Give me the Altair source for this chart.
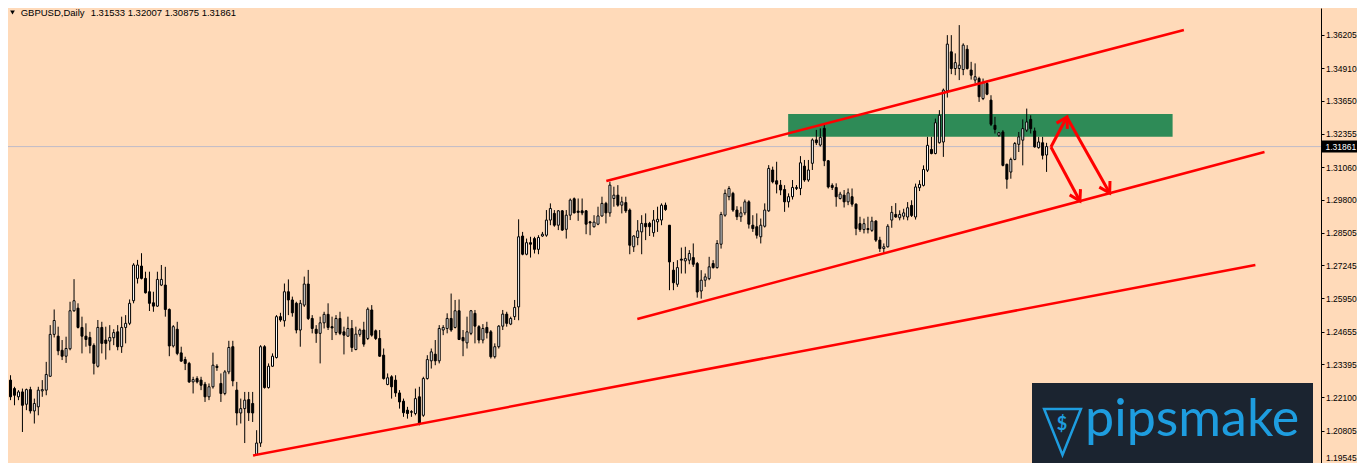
import altair as alt
import pandas as pd

# ---------------- data ----------------
opens = [
1.2277,1.2244,1.2212,1.2231,1.2183,1.2240,1.2157,1.2173,1.2235,1.2238,
1.2292,1.2455,1.2448,1.2393,1.2370,1.2399,1.2547,1.2557,1.2482,1.2448,
1.2443,1.2412,1.2331,1.2482,1.2433,1.2429,1.2442,1.2465,1.2407,1.2482,
1.2498,1.2586,1.2673,1.2721,1.2673,1.2621,1.2578,1.2565,1.2647,1.2647,
1.2552,1.2410,1.2475,1.2383,1.2357,1.2342,1.2270,1.2283,1.2277,1.2261,
1.2212,1.2251,1.2331,1.2264,1.2225,1.2309,1.2407,1.2238,1.2149,1.2166,
1.2201,1.2186,1.1988,1.2032,1.2407,1.2248,1.2331,1.2365,1.2524,1.2508,
1.2621,1.2589,1.2576,1.2472,1.2569,1.2651,1.2517,1.2475,1.2459,1.2500,
1.2533,1.2485,1.2462,1.2517,1.2465,1.2448,1.2478,1.2396,1.2455,1.2472,
1.2439,1.2550,1.2469,1.2439,1.2374,1.2260,1.2290,1.2277,1.2227,1.2195,
1.2160,1.2154,1.2147,1.2212,1.2140,1.2283,1.2352,1.2378,1.2352,1.2472,
1.2478,1.2517,1.2482,1.2547,1.2443,1.2422,1.2459,1.2537,1.2485,1.2433,
1.2482,1.2465,1.2368,1.2407,1.2487,1.2534,1.2495,1.2524,1.2562,1.2838,
1.2767,1.2812,1.2828,1.2786,1.2838,1.2841,1.2900,1.2926,1.2880,1.2936,
1.2864,1.2919,1.2983,1.2935,1.2936,1.2936,1.2893,1.2874,1.2884,1.2916,
1.2965,1.2928,1.2984,1.2997,1.2958,1.2968,1.2939,1.2796,1.2832,1.2854,
1.2887,1.2887,1.2851,1.2893,1.2900,1.2958,1.2880,1.2705,1.2650,1.2748,
1.2741,1.2744,1.2754,1.2731,1.2624,1.2666,1.2672,1.2731,1.2715,1.2806,
1.2919,1.2991,1.3004,1.2939,1.2913,1.2928,1.2971,1.2880,1.2874,1.2835,
1.2876,1.2936,1.3095,1.3053,1.3036,1.3019,1.2971,1.2991,1.3023,1.3023,
1.3110,1.3056,1.3121,1.3212,1.3192,1.3257,1.3131,1.3035,1.3027,1.2984,
1.2997,1.2971,1.2991,1.2962,1.2886,1.2863,1.2867,1.2860,1.2896,1.2822,
1.2789,1.2796,1.2900,1.2922,1.2909,1.2915,1.2912,1.2957,1.2912,1.3026,
1.3035,1.3094,1.3175,1.3159,1.3201,1.3204,1.3403,1.3555,1.3490,1.3490,
1.3486,1.3565,1.3484,1.3445,1.3451,1.3373,1.3432,1.3367,1.3269,1.3230,
1.3243,1.3117,1.3087,1.3136,1.3195,1.3211,1.3250,1.3292,1.3247,1.3182,
1.3201,1.31533]

highs = [
1.2296,1.2251,1.2238,1.2244,1.2244,1.2251,1.2205,1.2251,1.2277,1.2348,
1.2491,1.2552,1.2485,1.2433,1.2446,1.2582,1.2670,1.2576,1.2524,1.2498,
1.2465,1.2420,1.2511,1.2504,1.2485,1.2491,1.2475,1.2491,1.2524,1.2530,
1.2591,1.2732,1.2745,1.2771,1.2699,1.2699,1.2621,1.2699,1.2725,1.2718,
1.2556,1.2491,1.2504,1.2407,1.2368,1.2348,1.2290,1.2292,1.2290,1.2270,
1.2264,1.2384,1.2339,1.2303,1.2316,1.2430,1.2430,1.2270,1.2205,1.2231,
1.2231,1.2231,1.2082,1.2413,1.2413,1.2342,1.2381,1.2530,1.2539,1.2653,
1.2669,1.2602,1.2582,1.2589,1.2680,1.2706,1.2530,1.2491,1.2524,1.2543,
1.2576,1.2524,1.2530,1.2543,1.2485,1.2524,1.2511,1.2485,1.2478,1.2504,
1.2560,1.2569,1.2474,1.2472,1.2400,1.2303,1.2296,1.2296,1.2238,1.2205,
1.2173,1.2160,1.2244,1.2251,1.2290,1.2374,1.2400,1.2433,1.2491,1.2491,
1.2537,1.2614,1.2589,1.2591,1.2472,1.2524,1.2550,1.2550,1.2491,1.2495,
1.2504,1.2472,1.2420,1.2491,1.2550,1.2543,1.2524,1.2589,1.2903,1.2854,
1.2828,1.2835,1.2835,1.2841,1.2854,1.2939,1.2965,1.2939,1.2939,1.2939,
1.2939,1.2984,1.2988,1.2984,1.2984,1.2939,1.2897,1.2919,1.2952,1.2991,
1.2971,1.3049,1.3030,1.3036,1.2991,1.2991,1.2945,1.2841,1.2900,1.2919,
1.2926,1.2893,1.2939,1.2952,1.2965,1.2968,1.2880,1.2737,1.2744,1.2793,
1.2796,1.2783,1.2809,1.2737,1.2705,1.2692,1.2757,1.2744,1.2822,1.2932,
1.3019,1.3032,1.3010,1.2954,1.2952,1.2980,1.2977,1.2919,1.2926,1.2906,
1.2965,1.3114,1.3108,1.3127,1.3056,1.3036,1.3004,1.3056,1.3036,1.3149,
1.3134,1.3134,1.3218,1.3251,1.3257,1.3270,1.3134,1.3043,1.3043,1.3010,
1.3017,1.3023,1.3023,1.2965,1.2913,1.2906,1.2913,1.2913,1.2900,1.2835,
1.2809,1.2884,1.2955,1.2966,1.2938,1.2944,1.2970,1.2977,1.3042,1.3055,
1.3113,1.3224,1.3224,1.3295,1.3328,1.3412,1.3620,1.3620,1.3549,1.3659,
1.3588,1.3581,1.3516,1.3510,1.3458,1.3451,1.3442,1.3386,1.3302,1.3243,
1.3250,1.3120,1.3143,1.3204,1.3243,1.3292,1.3334,1.3308,1.3260,1.3224,
1.3224,1.32007]

lows = [
1.2199,1.2179,1.2199,1.2075,1.2160,1.2147,1.2108,1.2140,1.2212,1.2218,
1.2290,1.2443,1.2374,1.2355,1.2344,1.2393,1.2543,1.2478,1.2381,1.2407,
1.2381,1.2299,1.2326,1.2381,1.2357,1.2393,1.2413,1.2393,1.2383,1.2420,
1.2491,1.2576,1.2653,1.2669,1.2614,1.2546,1.2543,1.2562,1.2643,1.2524,
1.2370,1.2404,1.2374,1.2348,1.2316,1.2266,1.2225,1.2264,1.2238,1.2192,
1.2199,1.2244,1.2313,1.2192,1.2218,1.2300,1.2253,1.2101,1.2108,1.2032,
1.2118,1.2114,1.1984,1.2017,1.2244,1.2244,1.2329,1.2361,1.2504,1.2485,
1.2530,1.2524,1.2459,1.2407,1.2562,1.2511,1.2459,1.2422,1.2342,1.2478,
1.2472,1.2433,1.2452,1.2452,1.2377,1.2446,1.2387,1.2393,1.2446,1.2407,
1.2433,1.2446,1.2433,1.2368,1.2279,1.2257,1.2205,1.2212,1.2166,1.2134,
1.2127,1.2134,1.2140,1.2101,1.2134,1.2279,1.2322,1.2335,1.2342,1.2452,
1.2459,1.2465,1.2478,1.2433,1.2370,1.2400,1.2452,1.2420,1.2420,1.2420,
1.2439,1.2361,1.2361,1.2400,1.2472,1.2485,1.2491,1.2511,1.2510,1.2763,
1.2763,1.2754,1.2770,1.2767,1.2835,1.2835,1.2880,1.2874,1.2861,1.2858,
1.2828,1.2900,1.2926,1.2897,1.2919,1.2845,1.2841,1.2871,1.2880,1.2913,
1.2887,1.2913,1.2952,1.2952,1.2926,1.2928,1.2767,1.2776,1.2802,1.2767,
1.2822,1.2838,1.2835,1.2854,1.2880,1.2936,1.2627,1.2627,1.2640,1.2692,
1.2692,1.2728,1.2718,1.2598,1.2594,1.2640,1.2666,1.2711,1.2711,1.2789,
1.2913,1.2977,1.2932,1.2900,1.2893,1.2919,1.2867,1.2854,1.2828,1.2809,
1.2871,1.2932,1.3043,1.3004,1.2997,1.2932,1.2949,1.2980,1.3017,1.2997,
1.3049,1.3049,1.3095,1.3192,1.3186,1.3110,1.3023,1.3017,1.2952,1.2980,
1.2949,1.2958,1.2952,1.2841,1.2854,1.2848,1.2848,1.2854,1.2815,1.2776,
1.2770,1.2793,1.2870,1.2909,1.2899,1.2902,1.2899,1.2912,1.2902,1.3013,
1.3031,1.3087,1.3156,1.3156,1.3198,1.3146,1.3377,1.3468,1.3464,1.3445,
1.3464,1.3486,1.3447,1.3432,1.3360,1.3367,1.3386,1.3266,1.3237,1.3224,
1.3109,1.3022,1.3061,1.3133,1.3165,1.3113,1.3243,1.3237,1.3182,1.3178,
1.3136,1.30875]

closes = [
1.2212,1.2218,1.2231,1.2179,1.2240,1.2157,1.2186,1.2238,1.2240,1.2299,
1.2455,1.2509,1.2391,1.2370,1.2400,1.2547,1.2586,1.2482,1.2448,1.2435,
1.2412,1.2342,1.2482,1.2420,1.2420,1.2443,1.2462,1.2407,1.2482,1.2498,
1.2576,1.2725,1.2725,1.2673,1.2617,1.2576,1.2565,1.2669,1.2669,1.2552,
1.2410,1.2485,1.2381,1.2351,1.2342,1.2270,1.2279,1.2270,1.2257,1.2212,
1.2251,1.2335,1.2326,1.2225,1.2309,1.2404,1.2274,1.2149,1.2166,1.2199,
1.2150,1.2149,1.2032,1.2407,1.2248,1.2331,1.2370,1.2524,1.2511,1.2621,
1.2589,1.2539,1.2472,1.2576,1.2651,1.2517,1.2478,1.2459,1.2500,1.2533,
1.2482,1.2480,1.2517,1.2459,1.2452,1.2478,1.2404,1.2456,1.2472,1.2417,
1.2553,1.2452,1.2439,1.2370,1.2283,1.2286,1.2251,1.2227,1.2192,1.2150,
1.2147,1.2152,1.2205,1.2108,1.2283,1.2357,1.2387,1.2352,1.2478,1.2482,
1.2517,1.2472,1.2547,1.2435,1.2430,1.2465,1.2547,1.2487,1.2433,1.2478,
1.2461,1.2368,1.2407,1.2487,1.2534,1.2498,1.2517,1.2560,1.2835,1.2767,
1.2812,1.2806,1.2786,1.2832,1.2845,1.2900,1.2945,1.2880,1.2936,1.2861,
1.2919,1.2978,1.2928,1.2930,1.2928,1.2884,1.2889,1.2892,1.2916,1.2965,
1.2928,1.3036,1.2997,1.2958,1.2971,1.2936,1.2802,1.2838,1.2858,1.2887,
1.2874,1.2874,1.2900,1.2903,1.2958,1.2941,1.2737,1.2656,1.2715,1.2744,
1.2750,1.2770,1.2728,1.2620,1.2666,1.2679,1.2718,1.2715,1.2809,1.2922,
1.3004,1.3023,1.2939,1.2913,1.2928,1.2971,1.2884,1.2867,1.2841,1.2880,
1.2939,1.3101,1.3049,1.3040,1.3017,1.2971,1.2991,1.3027,1.3027,1.3123,
1.3056,1.3095,1.3212,1.3201,1.3222,1.3131,1.3029,1.3027,1.2991,1.3001,
1.2971,1.3006,1.2962,1.2867,1.2863,1.2886,1.2863,1.2896,1.2822,1.2789,
1.2796,1.2876,1.2930,1.2912,1.2922,1.2928,1.2948,1.2918,1.3029,1.3039,
1.3097,1.3191,1.3159,1.3279,1.3308,1.3406,1.3585,1.3490,1.3513,1.3503,
1.3581,1.3490,1.3464,1.3458,1.3380,1.3435,1.3390,1.3273,1.3253,1.3240,
1.3113,1.3059,1.3136,1.3198,1.3224,1.3256,1.3282,1.3256,1.3185,1.3204,
1.3152,1.31861]

tick_values = [1.36205, 1.34910, 1.33650, 1.32355, 1.31060, 1.29800, 1.28505,
               1.27245, 1.25950, 1.24655, 1.23395, 1.22100, 1.20805, 1.19545]
last_price = 1.31861
symbol_label = "GBPUSD,Daily"
ohlc_label = "1.31533 1.32007 1.30875 1.31861"

# resistance zone (bar index, price)
zone_x = [195.9, 292.75]
zone_y = [1.32246, 1.33129]

# trend lines (bar index, price)
line_x1 = [150.1, 157.9, 61.1]
line_y1 = [1.30521, 1.25149, 1.19835]
line_x2 = [295.6, 315.9, 313.6]
line_y2 = [1.36400, 1.31650, 1.27251]

# arrows (bar index, price)
arrow_x1 = [262.1, 266.1, 262.1]
arrow_y1 = [1.31845, 1.33013, 1.31845]
arrow_x2 = [266.1, 276.9, 269.4]
arrow_y2 = [1.33013, 1.30054, 1.29743]
arrow_angle = [28, 150.5, 151.8]

logo_text = "pipsmake"

# ---------------- tables ----------------
candles = pd.DataFrame({
    "i": list(range(len(opens))),
    "open": opens, "high": highs, "low": lows, "close": closes,
})
candles["fillc"] = ["white" if c >= o else "black" for o, c in zip(opens, closes)]

zone = pd.DataFrame({"x1": [zone_x[0]], "x2": [zone_x[1]], "y1": [zone_y[0]], "y2": [zone_y[1]]})
trend = pd.DataFrame({"x1": line_x1, "y1": line_y1, "x2": line_x2, "y2": line_y2})
arrows = pd.DataFrame({"x1": arrow_x1, "y1": arrow_y1, "x2": arrow_x2, "y2": arrow_y2, "ang": arrow_angle})
price_df = pd.DataFrame({"p": [last_price], "label": [f"{last_price:.5f}"]})
one = pd.DataFrame({"sym": [symbol_label], "vals": [ohlc_label], "logo": [logo_text], "dollar": ["$"]})

W, H = 1313, 455
PAD_R = 36
BG = "#FFDAB9"
FONT = "Liberation Sans"

xs = alt.Scale(domain=[0.625, 328.875], nice=False, zero=False)
ys = alt.Scale(domain=[1.19543, 1.37256], nice=False, zero=False)

yaxis = alt.Axis(orient="right", values=tick_values, format=".5f", title=None, grid=False,
                 labelFont=FONT, labelFontSize=8.5, labelColor="black", tickColor="black",
                 tickSize=3, domainColor="black", domainWidth=1, tickWidth=1, labelPadding=1.5,
                 labelBaseline=alt.condition("datum.value < 1.2", alt.value("bottom"), alt.value("middle")),
                 labelFlush=False, labelOverlap=False, labelBound=False)

X = lambda f: alt.X(f, scale=xs, axis=None)
Y = lambda f: alt.Y(f, scale=ys, axis=yaxis)

bid = alt.Chart(price_df).mark_rule(color="#C0BCC8", strokeWidth=1).encode(y=Y("p:Q"))

zone_l = alt.Chart(zone).mark_rect(color="#2E8B57", opacity=1).encode(
    x=X("x1:Q"), x2="x2:Q", y=Y("y1:Q"), y2="y2:Q")

wicks = alt.Chart(candles).mark_rule(color="black", strokeWidth=1).encode(
    x=X("i:Q"), y=Y("low:Q"), y2="high:Q")

bodies = alt.Chart(candles).mark_bar(size=2, stroke="black", strokeWidth=1).encode(
    x=X("i:Q"), y=Y("open:Q"), y2="close:Q", fill=alt.Fill("fillc:N", scale=None))

trend_l = alt.Chart(trend).mark_rule(color="#FF0000", strokeWidth=2.5).encode(
    x=X("x1:Q"), x2="x2:Q", y=Y("y1:Q"), y2="y2:Q")

arrow_l = alt.Chart(arrows).mark_rule(color="#FF0000", strokeWidth=3).encode(
    x=X("x1:Q"), x2="x2:Q", y=Y("y1:Q"), y2="y2:Q")

heads = alt.Chart(arrows).mark_point(shape="M -0.6 1 L 0 0 L 0.6 1", filled=False, color="#FF0000",
                                     strokeWidth=3, size=420, opacity=1).encode(
    x=X("x2:Q"), y=Y("y2:Q"), angle=alt.Angle("ang:Q", scale=None))

pbox = alt.Chart(price_df).mark_rule(color="black", strokeWidth=12).encode(
    x=alt.value(1314), x2=alt.value(W + PAD_R), y=Y("p:Q"))
ptext = alt.Chart(price_df).mark_text(align="left", baseline="middle", color="white",
                                      font=FONT, fontSize=8.5).encode(
    x=alt.value(1317.5), y=Y("p:Q"), text="label:N")

tri = alt.Chart(one).mark_point(shape="triangle-down", filled=True, color="black", size=22, opacity=1).encode(
    x=alt.value(4.5), y=alt.value(4.5))
sym = alt.Chart(one).mark_text(align="left", baseline="middle", font=FONT, fontSize=9.5, color="black").encode(
    x=alt.value(12.7), y=alt.value(5.2), text="sym:N")
vals = alt.Chart(one).mark_text(align="left", baseline="middle", font=FONT, fontSize=9.5, color="black").encode(
    x=alt.value(82.7), y=alt.value(5.2), text="vals:N")

logo_box = alt.Chart(one).mark_rect(color="#1B2430").encode(
    x=alt.value(1024), x2=alt.value(1305), y=alt.value(375), y2=alt.value(H))
logo_tri = alt.Chart(one).mark_point(shape="M -0.8 -1 L 0.8 -1 L 0 1 Z", filled=False, color="#1E9DDF",
                                     strokeWidth=2.5, size=2116, opacity=1).encode(
    x=alt.value(1054.5), y=alt.value(424))
logo_dollar = alt.Chart(one).mark_text(align="center", baseline="middle", font="Lato", fontSize=18,
                                       fontWeight="bold", color="#1E9DDF").encode(
    x=alt.value(1054), y=alt.value(417), text="dollar:N")
logo_word = alt.Chart(one).mark_text(align="left", baseline="alphabetic", font="Lato", fontSize=52,
                                     color="#1E9DDF").encode(
    x=alt.value(1077), y=alt.value(428), text="logo:N")

chart = alt.layer(
    bid, zone_l, wicks, bodies, trend_l, arrow_l, heads, pbox, ptext,
    tri, sym, vals, logo_box, logo_tri, logo_dollar, logo_word
).properties(
    width=W, height=H,
    autosize=alt.AutoSizeParams(type="none"),
    padding={"left": 0, "top": 0, "right": PAD_R, "bottom": 0},
    background=BG,
).configure_view(stroke=None)

chart.save("out.html", embed_options={"renderer": "svg", "actions": False})
